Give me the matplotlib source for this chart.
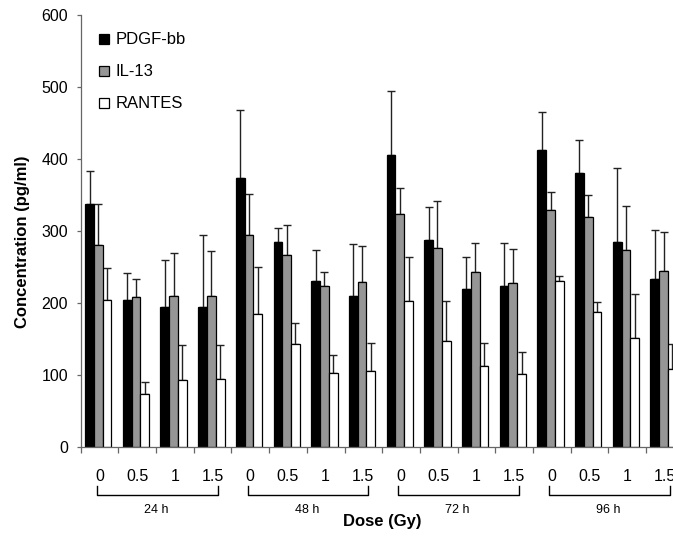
import numpy as np
import matplotlib
matplotlib.use('Agg')
import matplotlib.pyplot as plt
import matplotlib.transforms as mtransforms

plt.rcParams['font.family'] = ['Liberation Sans', 'DejaVu Sans']

times = ['24 h', '48 h', '72 h', '96 h']
doses = ['0', '0.5', '1', '1.5']

# mean concentration (pg/ml), 16 = 4 times x 4 doses
pdgf = [338, 204, 194, 195, 373, 285, 231, 210, 405, 288, 219, 223, 413, 380, 285, 233]
il13 = [281, 208, 210, 210, 295, 266, 223, 229, 323, 277, 243, 228, 329, 319, 273, 245]
rantes = [204, 74, 93, 94, 185, 143, 103, 105, 203, 147, 113, 101, 231, 187, 151, 109]

# upper error bars
pdgf_err = [45, 37, 66, 100, 95, 19, 42, 72, 90, 45, 45, 60, 52, 46, 103, 69]
il13_err = [57, 25, 60, 62, 57, 42, 20, 50, 37, 65, 40, 47, 25, 31, 62, 53]
rantes_err = [44, 16, 48, 47, 65, 29, 25, 40, 61, 56, 32, 31, 6, 14, 61, 34]

series = [('PDGF-bb', pdgf, pdgf_err, 'black'),
          ('IL-13', il13, il13_err, '#969696'),
          ('RANTES', rantes, rantes_err, 'white')]

fig = plt.figure(figsize=(6.73, 5.36), dpi=100)
# axes runs past the right edge of the figure, like the original
ax = fig.add_axes([80.7 / 673, 89 / 536, 603 / 673, 432 / 536])

n = len(pdgf)
x = np.arange(n)
w = 0.233
for k, (name, vals, err, col) in enumerate(series):
    pos = x + 0.117 + w * (k + 0.5)
    ax.bar(pos, vals, width=w, color=col, edgecolor='black', linewidth=0.9,
           label=name, zorder=2)
    ax.errorbar(pos, vals, yerr=[np.zeros(n), err], fmt='none', ecolor='#222222',
                elinewidth=1.0, capsize=2.7, capthick=1.0, zorder=1)

ax.set_xlim(0, n)
ax.set_ylim(0, 600)
ax.set_yticks(range(0, 601, 100))
ax.tick_params(axis='y', direction='out', length=3, width=0.9, color='#666666',
               labelsize=11.5, pad=6)

# major ticks at category boundaries, dose labels at centers
ax.set_xticks(range(n + 1))
ax.set_xticklabels([])
ax.set_xticks(x + 0.5, minor=True)
ax.set_xticklabels(doses * 4, minor=True)
ax.tick_params(axis='x', which='major', direction='out', length=4, width=0.9,
               color='#666666')
ax.tick_params(axis='x', which='minor', length=0, labelsize=11.5, pad=16)

for s in ['top', 'right']:
    ax.spines[s].set_visible(False)
for s in ['left', 'bottom']:
    ax.spines[s].set_color('#666666')
    ax.spines[s].set_linewidth(0.9)

# time brackets under the dose labels
trans = mtransforms.blended_transform_factory(ax.transData, ax.transAxes)
for g, t in enumerate(times):
    x0 = g * 4 + 0.43
    x1 = g * 4 + 3.63
    ax.plot([x0, x0, x1, x1], [-0.09, -0.11, -0.11, -0.09], color='black',
            linewidth=1.0, transform=trans, clip_on=False)
    ax.text(g * 4 + 2, -0.146, t, transform=trans, ha='center', va='center',
            fontsize=9)

ax.text(8, -0.173, 'Dose (Gy)', transform=trans, ha='center', va='center',
        fontsize=12, fontweight='bold')
ax.set_ylabel('Concentration (pg/ml)', fontsize=12, fontweight='bold')
ax.yaxis.set_label_coords(-0.084, 0.475)

ax.legend(loc='upper left', bbox_to_anchor=(0.02, 0.975), frameon=False,
          fontsize=12, handlelength=0.6, handleheight=0.55, handletextpad=0.35,
          labelspacing=1.02, borderaxespad=0)

fig.savefig('out.png', dpi=100)
